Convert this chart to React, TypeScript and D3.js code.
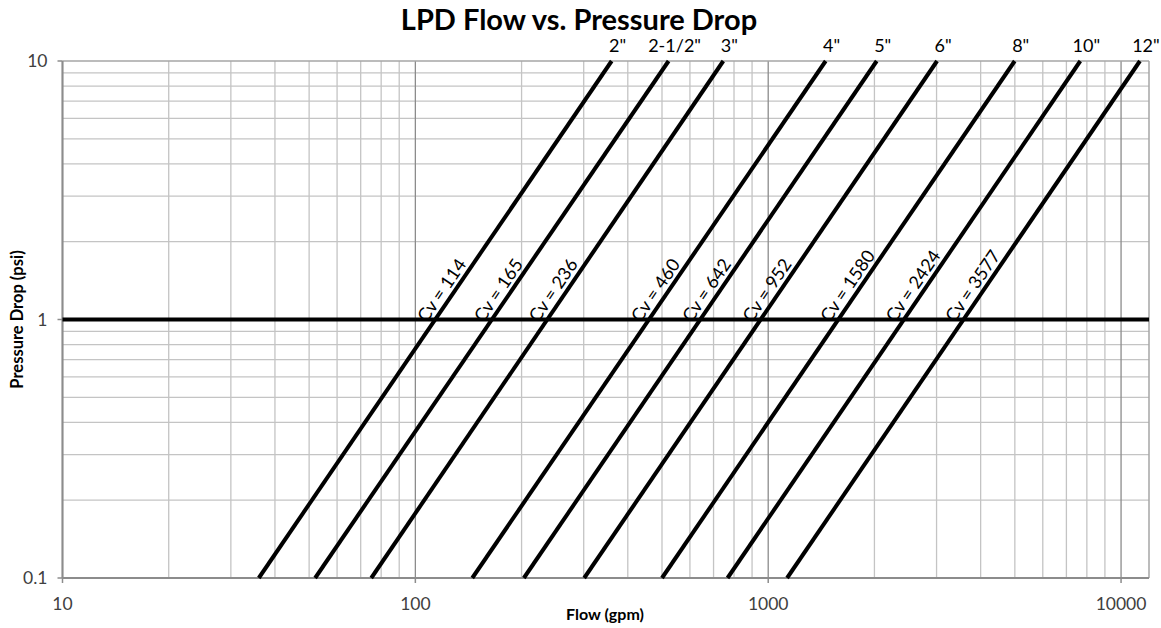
import React from "react";
import * as d3 from "d3";

// pipe sizes and their Cv
const sizes = ['2"', '2-1/2"', '3"', '4"', '5"', '6"', '8"', '10"', '12"'];
const cvValues = [114, 165, 236, 460, 642, 952, 1580, 2424, 3577];
// flow (gpm) where each line meets 0.1 psi and 10 psi
const flowAtLow = [36, 52, 75, 145, 203, 301, 500, 767, 1131];
const flowAtHigh = [360, 522, 746, 1455, 2030, 3010, 4996, 7665, 11311];
const pressureEnds = [0.1, 10];

const xTicks = [10, 100, 1000, 10000];
const yTicks = [0.1, 1, 10];

const W = 1161;
const H = 628;
const margin = { top: 61, right: 12, bottom: 50, left: 62.5 };
const font = "Lato, 'Open Sans', sans-serif";

export default function App() {
  const x = d3
    .scaleLog()
    .domain([10, 12000])
    .range([margin.left, W - margin.right]);
  const y = d3
    .scaleLog()
    .domain([0.1, 10])
    .range([H - margin.bottom, margin.top]);

  // minor grid positions: 1..9 times each decade
  const xGrid: number[] = [];
  for (let dec = 10; dec <= 10000; dec *= 10) {
    for (let m = 1; m <= 9; m++) {
      const v = dec * m;
      if (v <= 12000) xGrid.push(v);
    }
  }
  const yGrid: number[] = [];
  for (let dec = 0.1; dec < 10; dec *= 10) {
    for (let m = 1; m <= 9; m++) yGrid.push(+(dec * m).toFixed(3));
  }

  const lineGen = d3
    .line<[number, number]>()
    .x((d) => x(d[0]))
    .y((d) => y(d[1]));

  const x0 = margin.left;
  const x1 = W - margin.right;
  const y0 = margin.top;
  const y1 = H - margin.bottom;

  return (
    <svg width={W} height={H} style={{ position: "absolute", left: 0, top: 0, background: "#fff" }}>
      {/* minor gridlines */}
      {yGrid.map((v) => (
        <line key={"gy" + v} x1={x0} x2={x1} y1={y(v)} y2={y(v)} stroke="#c4c4c4" strokeWidth={1.3} />
      ))}
      {xGrid.map((v) => {
        const major = xTicks.includes(v);
        return (
          <line
            key={"gx" + v}
            x1={x(v)}
            x2={x(v)}
            y1={y0}
            y2={y1}
            stroke={major ? "#8c8c8c" : "#c4c4c4"}
            strokeWidth={1.3}
          />
        );
      })}
      {/* plot border */}
      <line x1={x0} x2={x1} y1={y0} y2={y0} stroke="#a6a6a6" strokeWidth={1.5} />
      <line x1={x1} x2={x1} y1={y0} y2={y1} stroke="#a6a6a6" strokeWidth={1.5} />
      {/* axes */}
      <line x1={x0} x2={x0} y1={y0} y2={y1} stroke="#8c8c8c" strokeWidth={2} />
      <line x1={x0} x2={x1} y1={y1} y2={y1} stroke="#8c8c8c" strokeWidth={2} />
      {xTicks.map((v) => (
        <g key={"xt" + v}>
          <line x1={x(v)} x2={x(v)} y1={y1} y2={y1 + 5} stroke="#8c8c8c" strokeWidth={1.5} />
          <text x={x(v)} y={y1 + 32} textAnchor="middle" fontFamily={font} fontSize={17.5} fill="#404040">
            {v}
          </text>
        </g>
      ))}
      {yTicks.map((v) => (
        <g key={"yt" + v}>
          <line x1={x0 - 5} x2={x0} y1={y(v)} y2={y(v)} stroke="#8c8c8c" strokeWidth={1.5} />
          <text x={x0 - 15} y={y(v) + 6} textAnchor="end" fontFamily={font} fontSize={17.5} fill="#404040">
            {v}
          </text>
        </g>
      ))}

      {/* 1 psi reference line */}
      <line x1={x0} x2={x1} y1={y(1)} y2={y(1)} stroke="#000" strokeWidth={4} />

      {/* Cv lines */}
      {sizes.map((s, i) => {
        const pts: [number, number][] = [
          [flowAtLow[i], pressureEnds[0]],
          [flowAtHigh[i], pressureEnds[1]],
        ];
        const dx = x(pts[1][0]) - x(pts[0][0]);
        const dy = y(pts[0][1]) - y(pts[1][1]);
        const ang = Math.atan2(dy, dx);
        const ux = Math.cos(ang);
        const uy = -Math.sin(ang);
        const nx = -Math.sin(ang);
        const ny = -Math.cos(ang);
        const px = x(cvValues[i]);
        const py = y(1);
        const s0 = -8;
        const g = 5;
        const tx = px + ux * s0 + nx * g;
        const ty = py + uy * s0 + ny * g;
        return (
          <g key={s}>
            <path d={lineGen(pts) || ""} fill="none" stroke="#000" strokeWidth={4} />
            <text
              x={tx}
              y={ty}
              transform={`rotate(${(-ang * 180) / Math.PI}, ${tx}, ${ty})`}
              fontFamily={font}
              fontSize={18}
              fill="#000"
            >
              {`Cv = ${cvValues[i]}`}
            </text>
            <text
              x={x(flowAtHigh[i]) + 6}
              y={52}
              textAnchor="middle"
              fontFamily={font}
              fontSize={18}
              fill="#000"
            >
              {s}
            </text>
          </g>
        );
      })}

      {/* titles */}
      <text x={579} y={30} textAnchor="middle" fontFamily={font} fontWeight="bold" fontSize={29} fill="#000">
        LPD Flow vs. Pressure Drop
      </text>
      <text x={605} y={620} textAnchor="middle" fontFamily={font} fontWeight="bold" fontSize={16} fill="#000">
        Flow (gpm)
      </text>
      <text
        transform={`translate(23, ${y(1)}) rotate(-90)`}
        textAnchor="middle"
        fontFamily={font}
        fontWeight="bold"
        fontSize={16.5}
        fill="#000"
      >
        Pressure Drop (psi)
      </text>
    </svg>
  );
}
